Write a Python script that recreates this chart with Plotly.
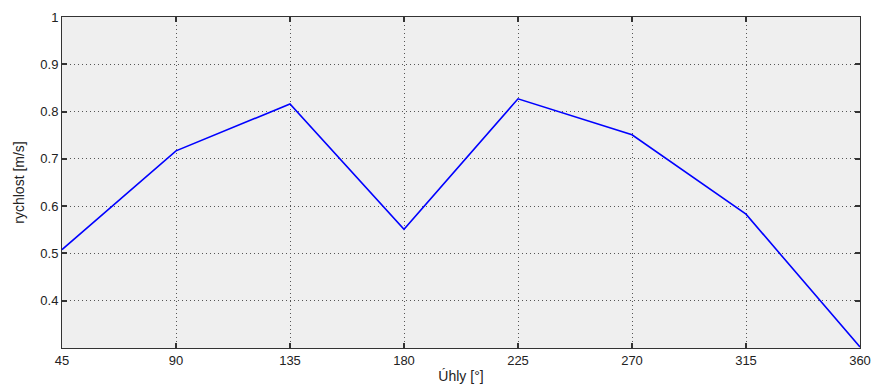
import plotly.graph_objects as go

angles = [45, 90, 135, 180, 225, 270, 315, 360]
speed = [0.508, 0.717, 0.816, 0.551, 0.827, 0.751, 0.583, 0.302]
x_ticks = [45, 90, 135, 180, 225, 270, 315, 360]
y_ticks = [0.4, 0.5, 0.6, 0.7, 0.8, 0.9, 1.0]
y_tick_text = ["0.4", "0.5", "0.6", "0.7", "0.8", "0.9", "1"]

fig = go.Figure()
fig.add_trace(go.Scatter(x=angles, y=speed, mode="lines",
                         line=dict(color="#0000ff", width=1.6)))

axis_common = dict(
    showline=True, linecolor="#333333", linewidth=1, mirror="ticks",
    ticks="inside", ticklen=5, tickcolor="#333333", tickwidth=1.5,
    showgrid=True, gridcolor="#555555", griddash="1px,3px", gridwidth=1,
    zeroline=False, automargin=False,
    tickfont=dict(family="Liberation Sans, Arial, sans-serif", size=13, color="#222222"),
)

fig.update_layout(
    width=875, height=388,
    margin=dict(l=62, r=15, t=17, b=40),
    paper_bgcolor="white", plot_bgcolor="#efefef",
    showlegend=False,
    font=dict(family="Liberation Sans, Arial, sans-serif", size=13, color="#222222"),
    xaxis=dict(range=[45, 360], tickvals=x_ticks,
               title=dict(text="Úhly [°]", standoff=4,
                          font=dict(size=14)), **axis_common),
    yaxis=dict(range=[0.3, 1.0], tickvals=y_ticks, ticktext=y_tick_text,
               title=dict(text="rychlost [m/s]", standoff=12,
                          font=dict(size=14)), **axis_common),
)

fig.write_html("out.html", config={"displayModeBar": False},
               post_script="document.body.style.margin='0';document.body.style.overflow='hidden';")
